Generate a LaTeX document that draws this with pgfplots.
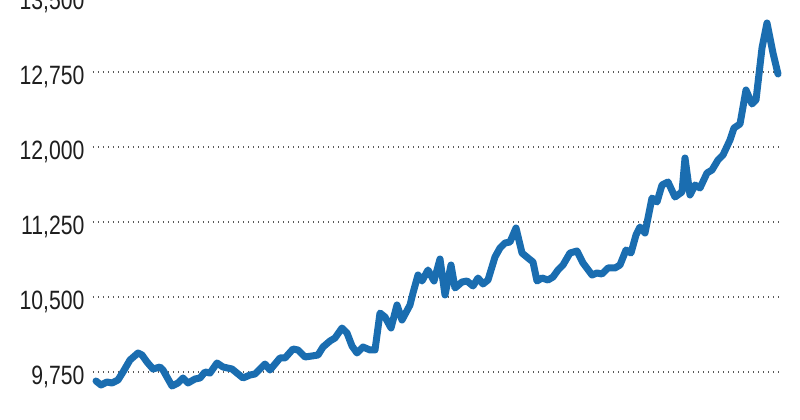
\documentclass[border=0pt]{standalone}
\usepackage{pgfplots}
\pgfplotsset{compat=1.18}
\usepackage{fontspec}
\setmainfont{Liberation Sans}[FakeStretch=0.8]
\definecolor{lineblue}{HTML}{1A6DB0}
\definecolor{labelgray}{HTML}{1E1E1E}
\begin{document}
\begin{tikzpicture}
\begin{axis}[
  anchor=south west, at={(0pt,0pt)},
  scale only axis, width=687pt, height=433pt,
  xmin=93, xmax=780, ymin=9270, ymax=13600,
  axis line style={draw=none}, tick style={draw=none},
  xtick=\empty,
  ytick={9750,10500,11250,12000,12750,13500},
  scaled y ticks=false,
  /pgf/number format/assume math mode=true,
  /pgf/number format/fixed,
  /pgf/number format/1000 sep={,},
  yticklabel style={font=\fontsize{26.5}{26.5}\selectfont, text=labelgray, xshift=-5pt, yshift=-5pt},
  ymajorgrids,
  grid style={black!65, line width=1.1pt, dash pattern=on 1.1pt off 3.9pt},
  clip=false,
]
\addplot[lineblue, line width=7pt, line join=round, line cap=round] table {
x y
96 9660
101 9620
107 9650
112 9640
118 9670
123 9750
130 9870
138 9940
142 9920
147 9850
153 9780
160 9800
163 9770
172 9610
178 9640
183 9690
188 9640
195 9680
200 9690
205 9750
210 9740
217 9840
223 9800
232 9780
243 9690
250 9720
255 9730
265 9830
270 9770
280 9890
285 9890
293 9980
298 9970
305 9900
312 9910
318 9920
323 10000
330 10060
335 10090
342 10190
347 10140
352 10010
357 9940
363 10000
370 9970
375 9970
380 10340
385 10300
391 10190
397 10420
402 10270
410 10420
413 10540
418 10720
422 10660
428 10770
434 10660
440 10880
445 10520
451 10820
455 10590
462 10650
467 10660
473 10610
478 10690
483 10630
488 10670
495 10900
500 10990
505 11040
510 11050
516 11190
522 10940
528 10890
533 10850
537 10660
542 10690
548 10670
553 10700
558 10770
563 10820
570 10940
577 10960
583 10840
592 10720
597 10740
602 10730
608 10790
615 10790
620 10820
626 10970
631 10940
636 11120
640 11200
645 11140
652 11490
657 11450
662 11620
668 11650
675 11500
682 11550
685 11890
690 11520
695 11620
700 11590
707 11740
712 11770
718 11870
723 11920
730 12070
734 12190
740 12230
746 12570
752 12430
756 12470
762 12990
767 13240
773 12940
778 12730
};
\end{axis}
\pgfresetboundingbox
\path[use as bounding box] (-93pt,0pt) rectangle (707pt,420pt);
\end{tikzpicture}
\end{document}
